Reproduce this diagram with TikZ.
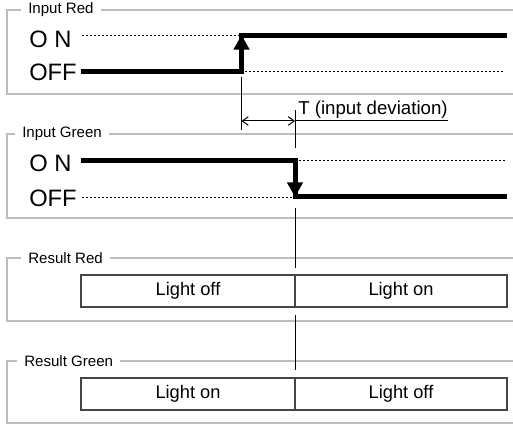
\documentclass[tikz,border=0pt]{standalone}
\usepackage{fontspec}
\setmainfont{Liberation Sans}
\usepackage{tikz}
\usetikzlibrary{arrows.meta,positioning}
\definecolor{frameGray}{HTML}{BDBDC1}
\definecolor{cellGray}{HTML}{454545}

\begin{document}
\begin{tikzpicture}[x=0.75pt, y=-0.75pt,
  frame/.style={draw=frameGray, line width=1.5pt},
  tag/.style={fill=white, inner xsep=5.5pt, inner ysep=1pt, anchor=west, font=\fontsize{11.3}{12}\selectfont},
  state/.style={anchor=west, inner sep=0pt, font=\fontsize{17.8}{20}\selectfont},
  signal/.style={line width=3.75pt, line join=miter},
  flip/.style={-{Triangle[length=11pt, width=11.5pt]}, line width=3.75pt},
  level/.style={dash pattern=on 1.5pt off 1.5pt, line width=0.6pt},
  guide/.style={line width=0.75pt},
  dim/.style={{Straight Barb[length=4.5pt, width=6.5pt]}-{Straight Barb[length=4.5pt, width=6.5pt]}, line width=0.75pt},
  cell/.style={rectangle, draw=cellGray, line width=0.9pt, minimum height=24pt, outer sep=0pt, inner sep=0pt, font=\fontsize{13.7}{16}\selectfont}
]
\useasboundingbox (0,0) rectangle (513,427);

% frames
\draw[frame] (513,10) -| (7,94.5) -- (513,94.5);
\draw[frame] (513,134) -| (7,218.5) -- (513,218.5);
\draw[frame] (513,258) -| (7,321) -- (513,321);
\draw[frame] (513,361) -| (7,423) -- (513,423);
\node[tag] (inred) at (20.7,10) {Input Red};
\node[tag] (ingreen) at (14.7,134) {Input Green};
\node[tag] (resred) at (20.7,258) {Result Red};
\node[tag] (resgreen) at (16.7,361) {Result Green};

% input red
\node[state] (redon) at (29,39) {O N};
\node[state] (redoff) at (29,72.5) {OFF};
\draw[level] (82,35.5) -- (240,35.5);
\draw[level] (245,71.5) -- (505,71.5);
\draw[signal] (81,71.5) -| (241.5,35.5) -- (507,35.5);
\draw[flip] (241.5,60) -- (241.5,35);

% input green
\node[state] (greenon) at (29,163.5) {O N};
\node[state] (greenoff) at (29,198) {OFF};
\draw[level] (295,160.5) -- (505,160.5);
\draw[level] (82,197) -- (293,197);
\draw[signal] (81,160.5) -| (295,197) -- (507,197);
\draw[flip] (295,172) -- (295,197);

% deviation
\coordinate (rise) at (241.5,121);
\coordinate (fall) at (295,121);
\node[anchor=base west, inner sep=0pt, font=\fontsize{14}{16}\selectfont] (dev) at (298,115) {T (input deviation)};
\draw[guide] (241.5,77) -- (241.5,130);
\draw[guide] (295,110) -- (295,148);
\draw[guide] (295,208) -- (295,268);
\draw[guide] (295,315) -- (295,370);
\draw[dim] (rise) -- (fall);
\draw[guide] (fall) -- (fall -| dev.east);

% results
\node[cell, minimum width=160.5pt, anchor=west] (redoffcell) at (81,291) {Light off};
\node[cell, minimum width=159pt, right=0pt of redoffcell] (redoncell) {Light on};
\node[cell, minimum width=160.5pt, anchor=west] (greenoncell) at (81,394) {Light on};
\node[cell, minimum width=159pt, right=0pt of greenoncell] (greenoffcell) {Light off};
\end{tikzpicture}
\end{document}
